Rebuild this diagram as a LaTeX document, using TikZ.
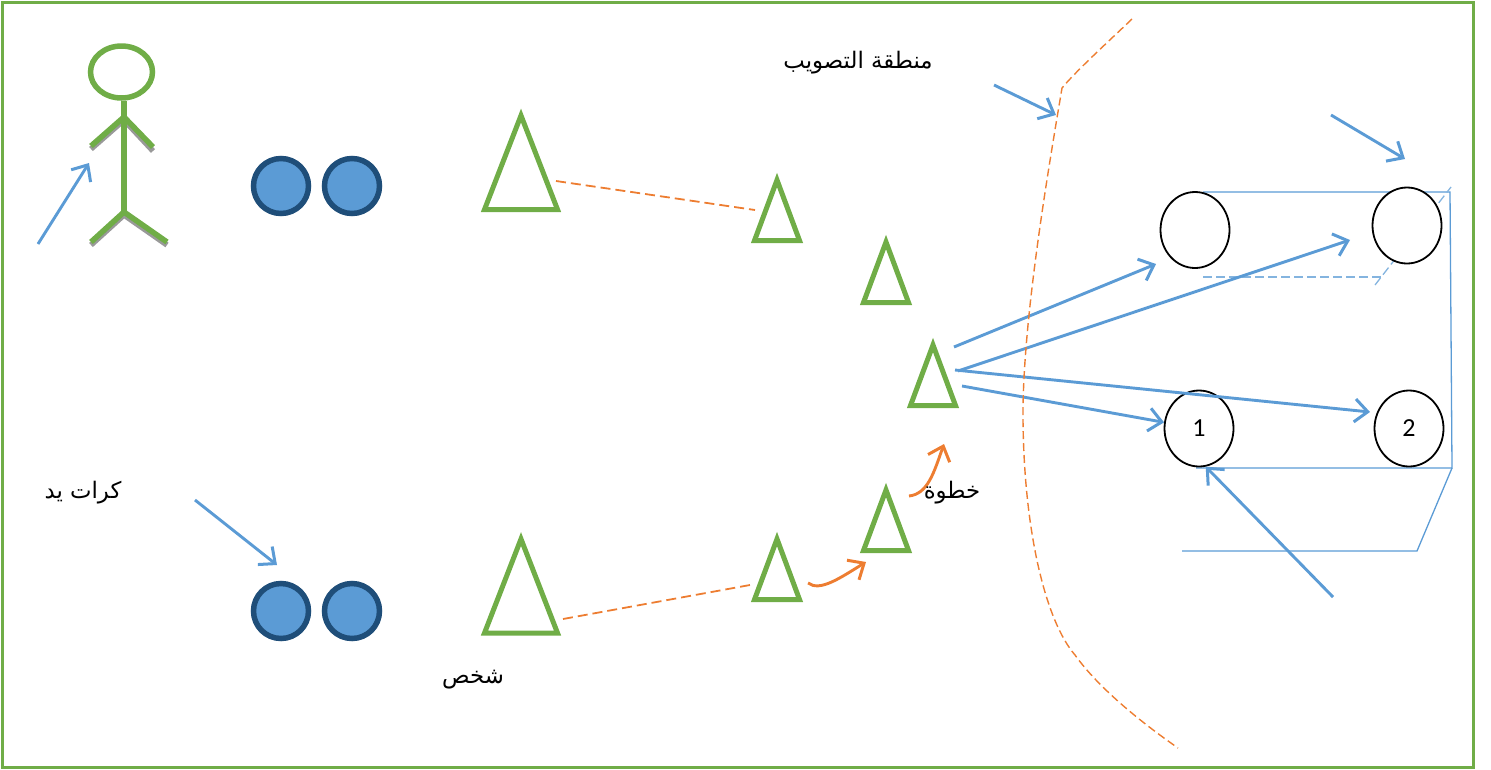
\documentclass[tikz,border=0pt]{standalone}
\usepackage{fontspec}
\usetikzlibrary{arrows.meta,shapes.geometric}
\TeXXeTstate=1
\newfontfamily\arabicfont[Script=Arabic]{DejaVu Sans}
\setmainfont{Carlito}
\definecolor{framegreen}{HTML}{70AD47}
\definecolor{ballblue}{HTML}{5B9BD5}
\definecolor{balledge}{HTML}{1F4E79}
\definecolor{steporange}{HTML}{ED7D31}

\begin{document}
\begin{tikzpicture}[x=1pt, y=-1pt, >={Straight Barb[length=13pt,width=23pt,line width=3pt]},
                    ball node/.style={circle,draw=balledge,fill=ballblue,line width=5.5pt,minimum size=55pt,inner sep=0pt},
                    goal node/.style={ellipse,draw=black,fill=white,line width=1.8pt,minimum width=69pt,minimum height=76pt,inner sep=0pt,font=\fontsize{26}{28}\selectfont},
                    big node/.style={isosceles triangle,isosceles triangle stretches,shape border rotate=90,anchor=apex,draw=framegreen,line width=5pt,inner sep=0pt,outer sep=0pt,minimum height=94pt,minimum width=73pt},
                    small node/.style={big node,minimum height=60.5pt,minimum width=45pt},
                    text node/.style={inner sep=0pt,font=\arabicfont\fontsize{22.8}{26}\selectfont},
                    pass/.style={draw=ballblue,line width=2.9pt,->},
                    stepline/.style={draw=steporange,line width=2.9pt,->},
                    runline/.style={draw=steporange,line width=1.8pt,dash pattern=on 10pt off 5pt},
                    goalline/.style={draw=ballblue,line width=1.3pt},
                    hiddenline/.style={draw=ballblue!75,line width=1.3pt,dash pattern=on 9pt off 4pt},
                    body/.style={draw=framegreen,line width=5.5pt}]

  \useasboundingbox (0,0) rectangle (1491,769);
  \draw[framegreen,line width=3pt] (2,2) rectangle (1473,767);

  % stick figure
  \draw[gray!80,line width=5.5pt] (91,149) -- (124,120) -- (153,151) (91,245) -- (124,215) -- (167,245);
  \node[ellipse,body,fill=white,minimum width=62pt,minimum height=52pt,inner sep=0pt] (head) at (121.5,72) {};
  \coordinate (neck) at (124,117);
  \coordinate (hip) at (124,212);
  \coordinate (hand1) at (91,146);
  \coordinate (hand2) at (153,147);
  \coordinate (foot1) at (91,242);
  \coordinate (foot2) at (167,242);
  \path[body]
    (head.south -| neck) edge[body] (hip)
    (hand1) edge[body] (neck)
    (neck) edge[body] (hand2)
    (foot1) edge[body] (hip)
    (hip) edge[body] (foot2);

  \node[ball node] (1) at (281,186) {};
  \node[ball node] (2) at (352,186) {};
  \node[ball node] (3) at (281,611) {};
  \node[ball node] (4) at (352,611) {};

  \node[big node] (t1) at (521,115.5) {};
  \node[big node] (t2) at (521,539) {};
  \node[small node] (t3) at (777,180) {};
  \node[small node] (t4) at (886,242) {};
  \node[small node] (t5) at (933,345) {};
  \node[small node] (t6) at (886,490) {};
  \node[small node] (t7) at (777,539) {};

  % goal
  \coordinate (p1) at (1203,192);
  \coordinate (p2) at (1450,192);
  \coordinate (p3) at (1452,468);
  \coordinate (p4) at (1196,468);
  \coordinate (p5) at (1417,551);
  \coordinate (p6) at (1182,551);
  \coordinate (p7) at (1203,277);
  \coordinate (p8) at (1382,277);
  \coordinate (p9) at (1375,285);
  \coordinate (p10) at (1451,187);
  \draw[goalline] (p1) -- (p2) -- (p3) -- (p4);
  \draw[goalline] (p3) -- (p5) -- (p6);
  \draw[hiddenline] (p7) -- (p8);
  \draw[hiddenline] (p9) -- (p10);

  \node[goal node] (g1) at (1195,230) {};
  \node[goal node] (g2) at (1407,225.5) {};
  \node[goal node] (g3) at (1199,428.5) {1};
  \node[goal node] (g4) at (1409,428.5) {2};

  % free ends of the arrows
  \coordinate (a1) at (38,244);
  \coordinate (a2) at (89,163);
  \coordinate (a3) at (994,85);
  \coordinate (a4) at (1056,115);
  \coordinate (a5) at (1331,115);
  \coordinate (a6) at (1405,159);
  \coordinate (a7) at (195,500);
  \coordinate (a8) at (277,565);
  \coordinate (a9) at (1333,597);
  \coordinate (s1) at (954,347);
  \coordinate (s2) at (958,371);
  \coordinate (s3) at (955,370);
  \coordinate (s4) at (962,386);
  \coordinate (e1) at (1156,264);
  \coordinate (e2) at (1350,240);
  \coordinate (e4) at (1370,412);

  \path
    (a1) edge[pass] (a2)
    (a3) edge[pass] (a4)
    (a5) edge[pass] (a6)
    (a7) edge[pass] (a8)
    (a9) edge[pass] (g3.280)
    (s1) edge[pass] (e1)
    (s2) edge[pass] (e2)
    (s3) edge[pass] (e4)
    (s4) edge[pass] (g3.170);

  % runs and steps
  \coordinate (r1) at (556,181);
  \coordinate (r2) at (755,210);
  \coordinate (r3) at (563,619);
  \coordinate (r4) at (750,585);
  \path
    (r1) edge[runline] (r2)
    (r3) edge[runline] (r4);

  \coordinate (o1) at (808,583);
  \coordinate (o2) at (866,562);
  \coordinate (o3) at (909,496);
  \coordinate (o4) at (944,444);
  \draw[stepline] (o1) .. controls (820,592) and (840,578) .. (o2);
  \draw[stepline] (o3) .. controls (928,494) and (934,472) .. (o4);

  % shooting area line
  \draw[steporange,line width=1.4pt,dash pattern=on 8pt off 4pt]
    (1132,19) .. controls (1110,40) and (1075,72) .. (1062,88)
    .. controls (1050,160) and (1022,320) .. (1023,420)
    .. controls (1024,530) and (1045,620) .. (1075,655)
    .. controls (1100,690) and (1145,725) .. (1178,748);

  \node[text node] (l1) at (858,62.5) {\beginR منطقة التصويب\endR};
  \node[text node] (l2) at (83,493) {\beginR كرات يد\endR};
  \node[text node] (l3) at (473,680) {\beginR شخص\endR};
  \node[text node] (l4) at (952,493) {\beginR خطوة\endR};
\end{tikzpicture}
\end{document}
